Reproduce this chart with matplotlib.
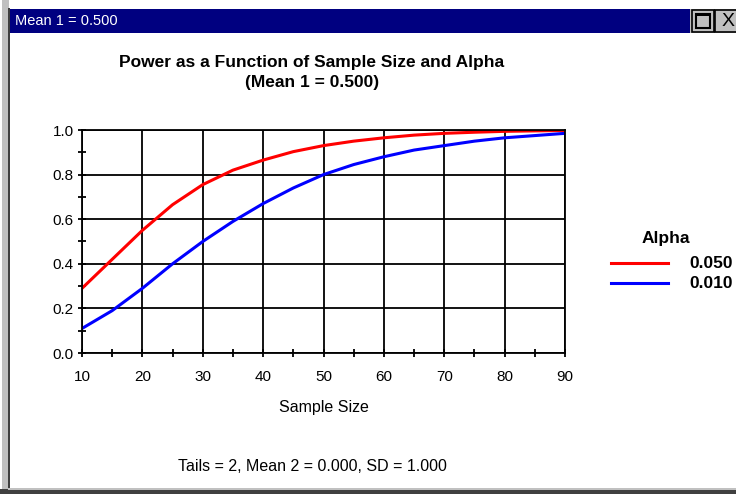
import matplotlib.pyplot as plt
from matplotlib.patches import Rectangle
import numpy as np

plt.rcParams['font.family'] = ['Liberation Sans', 'DejaVu Sans']

# Data
sample_size = [10, 15, 20, 25, 30, 35, 40, 45, 50, 55, 60, 65, 70, 75, 80, 85, 90]
power_050 = [0.29, 0.42, 0.55, 0.665, 0.755, 0.82, 0.865, 0.903, 0.93, 0.95,
             0.965, 0.977, 0.985, 0.99, 0.994, 0.996, 0.998]
power_010 = [0.11, 0.19, 0.29, 0.40, 0.50, 0.59, 0.67, 0.74, 0.80, 0.845,
             0.88, 0.91, 0.93, 0.95, 0.965, 0.975, 0.985]
alpha_labels = ['0.050', '0.010']
series_colors = ['#ff0000', '#0000ff']

W, H = 736, 494
fig = plt.figure(figsize=(W / 100, H / 100), dpi=100)
fig.patch.set_facecolor('white')


def fx(px):
    return px / W


def fy(py):
    return 1 - py / H


# Window frame
fig.add_artist(Rectangle((fx(2), 0), fx(7), 1, transform=fig.transFigure,
                         facecolor='#c0c0c0', edgecolor='none'))
fig.add_artist(Rectangle((fx(8), 0), fx(2), fy(8), transform=fig.transFigure,
                         facecolor='#404040', edgecolor='none'))
fig.add_artist(Rectangle((0, 0), 1, 5 / H, transform=fig.transFigure,
                         facecolor='#404040', edgecolor='none'))
fig.add_artist(Rectangle((fx(8), fy(490)), 1, 2 / H, transform=fig.transFigure,
                         facecolor='#c0c0c0', edgecolor='none'))
# Title bar
fig.add_artist(Rectangle((fx(10), fy(33)), fx(680), 24 / H, transform=fig.transFigure,
                         facecolor='#000080', edgecolor='none'))
fig.add_artist(Rectangle((fx(690), fy(33)), 1, 24 / H, transform=fig.transFigure,
                         facecolor='#c0c0c0', edgecolor='none'))
fig.add_artist(Rectangle((fx(692), fy(32)), fx(22), 22 / H, transform=fig.transFigure,
                         facecolor='#c0c0c0', edgecolor='black', linewidth=1.2))
fig.add_artist(Rectangle((fx(696), fy(28)), fx(14), 14 / H, transform=fig.transFigure,
                         facecolor='none', edgecolor='black', linewidth=1.5))
fig.add_artist(Rectangle((fx(696), fy(16)), fx(14), 2 / H, transform=fig.transFigure,
                         facecolor='black', edgecolor='none'))
fig.add_artist(Rectangle((fx(715), fy(32)), fx(25), 22 / H, transform=fig.transFigure,
                         facecolor='#c0c0c0', edgecolor='black', linewidth=1.2))
fig.text(fx(728), fy(21), 'X', fontsize=14, color='black',
         ha='center', va='center')
fig.text(fx(15), fy(21), 'Mean 1 = 0.500', fontsize=10.5, color='white', va='center')

# Plot area
ax = fig.add_axes([fx(82), fy(353), fx(565 - 82), (353 - 130) / H])
ax.plot(sample_size, power_050, color=series_colors[0], linewidth=2.2)
ax.plot(sample_size, power_010, color=series_colors[1], linewidth=2.2)

ax.set_xlim(10, 90)
ax.set_ylim(0, 1)
ax.set_xticks(np.arange(10, 91, 10))
ax.set_xticks(np.arange(15, 90, 10), minor=True)
ax.set_yticks(np.arange(0, 1.01, 0.2))
ax.set_yticks(np.arange(0.1, 1.0, 0.2), minor=True)
ax.set_yticklabels(['0.0', '0.2', '0.4', '0.6', '0.8', '1.0'])
ax.grid(True, which='major', color='black', linewidth=1.3)
ax.tick_params(axis='both', which='major', direction='inout', length=6,
               width=1.3, labelsize=11)
ax.tick_params(axis='x', which='major', pad=9)
ax.tick_params(axis='y', which='major', pad=3)
ax.tick_params(axis='both', which='minor', direction='inout', length=6, width=1.3)
for s in ax.spines.values():
    s.set_linewidth(1.3)
ax.set_xlabel('Sample Size', fontsize=11.5, labelpad=12)

# Titles
fig.text(fx(312), fy(63), 'Power as a Function of Sample Size and Alpha',
         fontsize=12.5, fontweight='bold', ha='center', va='center')
fig.text(fx(312), fy(82), '(Mean 1 = 0.500)',
         fontsize=12.5, fontweight='bold', ha='center', va='center')
fig.text(fx(312), fy(466), 'Tails = 2, Mean 2 = 0.000, SD = 1.000',
         fontsize=11.5, ha='center', va='center')

# Legend
fig.text(fx(666), fy(238), 'Alpha', fontsize=12.5, fontweight='bold',
         ha='center', va='center')
for i, (lab, col) in enumerate(zip(alpha_labels, series_colors)):
    y = fy(263 + 20 * i)
    fig.add_artist(plt.Line2D([fx(611), fx(668)], [y, y], color=col, linewidth=2.2,
                              transform=fig.transFigure))
    fig.text(fx(689), y, lab, fontsize=12.5, fontweight='bold', va='center')

fig.savefig('out.png', dpi=100)
